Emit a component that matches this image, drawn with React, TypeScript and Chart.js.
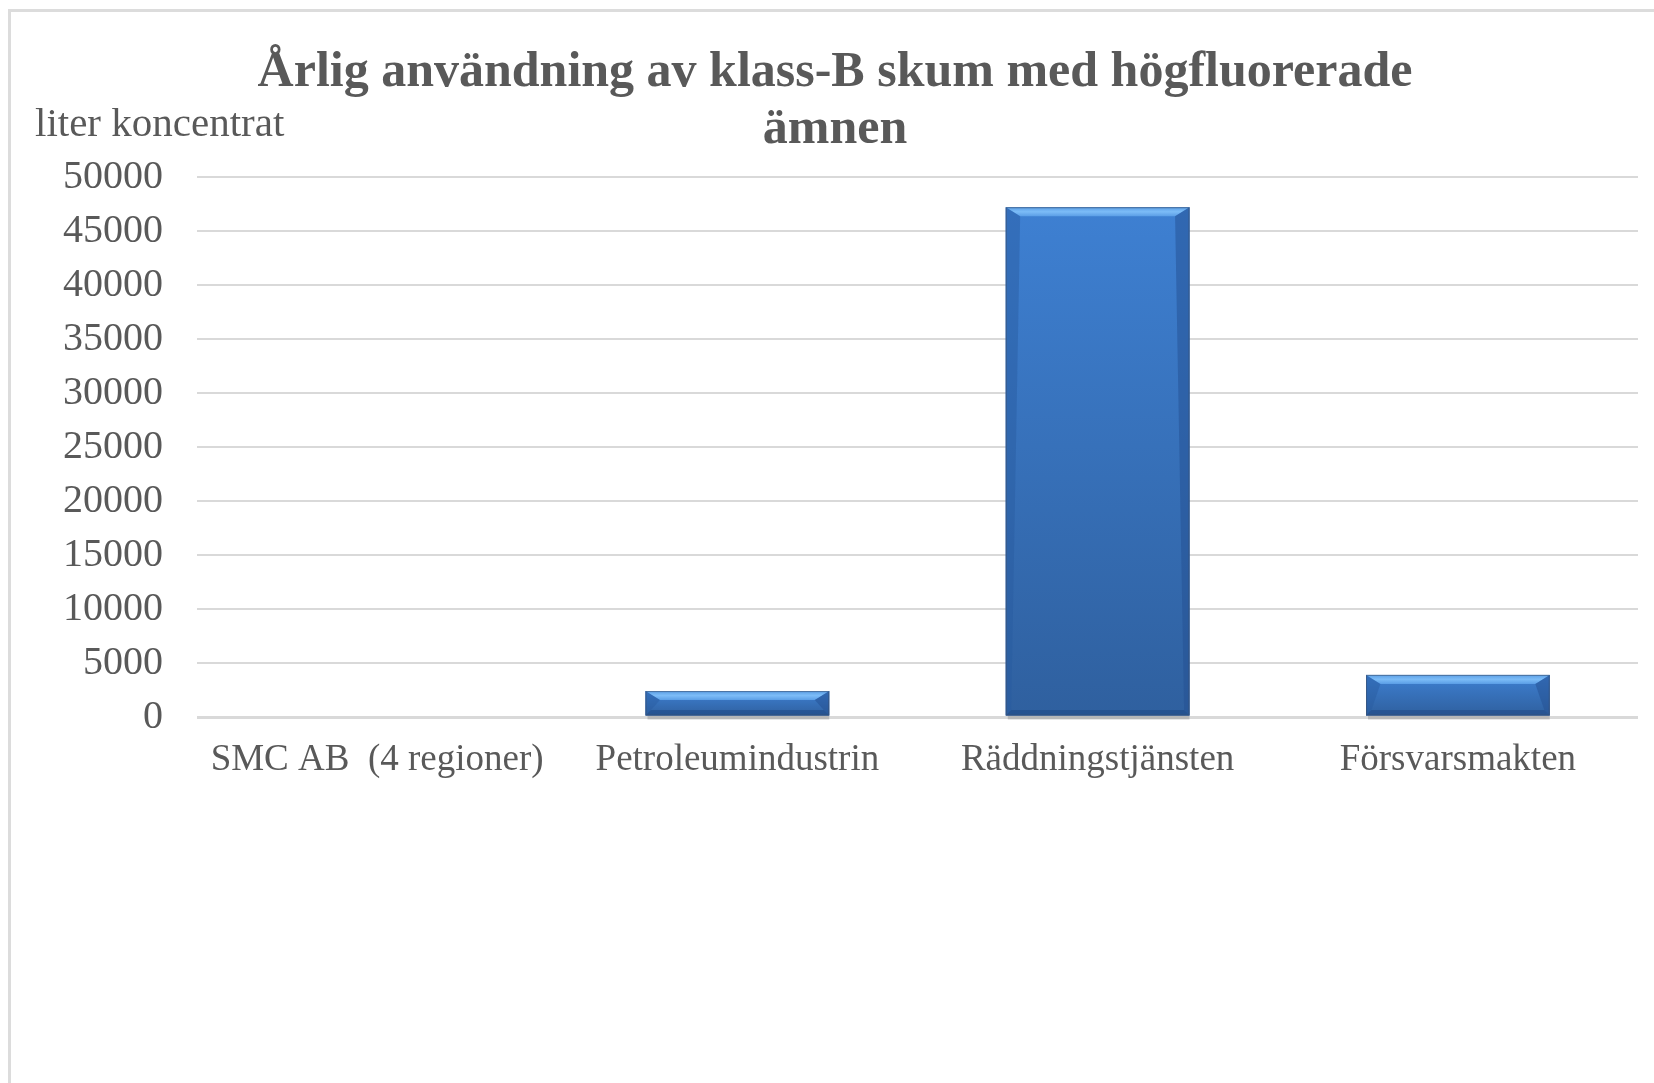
import React, { useEffect, useRef } from "react";
import { Chart, registerables } from "chart.js";

Chart.register(...registerables);

const categories = ["SMC AB  (4 regioner)", "Petroleumindustrin", "Räddningstjänsten", "Försvarsmakten"];
const values = [0, 2400, 47200, 3900];
const titleLines = ["Årlig användning av klass-B skum med högfluorerade", "ämnen"];
const yAxisTitle = "liter koncentrat";
const yMax = 50000;
const yStep = 5000;

const TEXT = "#595959";
const SERIF = "'Liberation Serif', 'Times New Roman', serif";

const W = 1654;
const H = 1083;

const textPlugin = {
  id: "texts",
  afterDraw(chart: any) {
    const ctx = chart.ctx;
    ctx.save();
    ctx.fillStyle = TEXT;
    ctx.textAlign = "center";
    ctx.textBaseline = "middle";
    ctx.font = `bold 50px ${SERIF}`;
    ctx.fillText(titleLines[0], 835, 73);
    ctx.fillText(titleLines[1], 835, 130);
    ctx.textAlign = "left";
    ctx.font = `41px ${SERIF}`;
    ctx.fillText(yAxisTitle, 35, 125);
    ctx.restore();
  },
};

const bevelPlugin = {
  id: "bevel",
  beforeDatasetsDraw(chart: any) {
    const ctx = chart.ctx;
    const meta = chart.getDatasetMeta(0);
    ctx.save();
    meta.data.forEach((bar: any) => {
      const h = bar.base - bar.y;
      if (h <= 0.5) return;
      const l = bar.x - bar.width / 2;
      ctx.fillStyle = "rgba(120,120,120,0.35)";
      ctx.fillRect(l + 2, bar.base, bar.width - 2, 4);
    });
    ctx.restore();
  },
  afterDatasetsDraw(chart: any) {
    const ctx = chart.ctx;
    const meta = chart.getDatasetMeta(0);
    ctx.save();
    meta.data.forEach((bar: any) => {
      const top = bar.y;
      const bot = bar.base;
      const h = bot - top;
      if (h <= 0.5) return;
      const l = bar.x - bar.width / 2;
      const r = bar.x + bar.width / 2;
      const b = Math.min(9, h / 2.2);
      const g = ctx.createLinearGradient(0, top, 0, bot);
      g.addColorStop(0, "#3e80d2");
      g.addColorStop(1, "#2f609f");
      ctx.fillStyle = g;
      ctx.fillRect(l, top, r - l, h);
      const gt = ctx.createLinearGradient(0, top, 0, top + b);
      gt.addColorStop(0, "#5c9fe6");
      gt.addColorStop(0.5, "#7cbcf7");
      gt.addColorStop(1, "#5b9ee6");
      ctx.fillStyle = gt;
      ctx.beginPath();
      ctx.moveTo(l, top);
      ctx.lineTo(r, top);
      ctx.lineTo(r - b * 1.6, top + b);
      ctx.lineTo(l + b * 1.6, top + b);
      ctx.closePath();
      ctx.fill();
      ctx.fillStyle = "rgba(40,90,160,0.45)";
      ctx.beginPath();
      ctx.moveTo(l, top);
      ctx.lineTo(l + b * 1.6, top + b);
      ctx.lineTo(l + b * 0.6, bot - b * 0.6);
      ctx.lineTo(l, bot);
      ctx.closePath();
      ctx.fill();
      ctx.fillStyle = "rgba(35,80,145,0.5)";
      ctx.beginPath();
      ctx.moveTo(r, top);
      ctx.lineTo(r - b * 1.6, top + b);
      ctx.lineTo(r - b * 0.6, bot - b * 0.6);
      ctx.lineTo(r, bot);
      ctx.closePath();
      ctx.fill();
      ctx.fillStyle = "rgba(30,70,130,0.5)";
      ctx.beginPath();
      ctx.moveTo(l, bot);
      ctx.lineTo(r, bot);
      ctx.lineTo(r - b * 0.6, bot - b * 0.6);
      ctx.lineTo(l + b * 0.6, bot - b * 0.6);
      ctx.closePath();
      ctx.fill();
      ctx.strokeStyle = "rgba(60,80,110,0.6)";
      ctx.lineWidth = 1;
      ctx.strokeRect(l + 0.5, top + 0.5, r - l - 1, h - 1);
    });
    ctx.restore();
  },
};

export default function App() {
  const ref = useRef<HTMLCanvasElement | null>(null);

  useEffect(() => {
    if (!ref.current) return;
    const chart = new Chart(ref.current, {
      type: "bar",
      data: {
        labels: categories,
        datasets: [
          {
            data: values,
            backgroundColor: "#3a74c2",
            borderWidth: 0,
            barPercentage: 0.51,
            categoryPercentage: 1,
          },
        ],
      },
      options: {
        responsive: false,
        animation: false,
        devicePixelRatio: 1,
        layout: { padding: { top: 177, right: 16, left: 0, bottom: 0 } },
        plugins: {
          legend: { display: false },
          tooltip: { enabled: false },
          title: { display: false },
        },
        scales: {
          x: {
            grid: { display: false, drawTicks: false },
            border: { display: false },
            ticks: {
              color: TEXT,
              font: { family: SERIF, size: 37 },
              padding: 21,
              maxRotation: 0,
              autoSkip: false,
            },
            afterFit: (s: any) => {
              s.height = H - 717;
            },
          },
          y: {
            min: 0,
            max: yMax,
            grid: {
              color: "#d9d9d9",
              lineWidth: (c: any) => (c.tick && c.tick.value === 0 ? 3 : 2),
              drawTicks: false,
            },
            border: { display: false },
            ticks: {
              stepSize: yStep,
              color: TEXT,
              font: { family: SERIF, size: 40 },
              padding: 34,
              callback: (v: any) => String(v),
            },
            afterFit: (s: any) => {
              s.width = 197;
            },
          },
        },
      },
      plugins: [textPlugin, bevelPlugin],
    });
    return () => chart.destroy();
  }, []);

  return (
    <div
      style={{
        position: "fixed",
        left: 0,
        top: 0,
        width: W,
        height: H,
        background: "#fff",
        overflow: "hidden",
      }}
    >
      <div
        style={{
          position: "absolute",
          left: 8,
          top: 9,
          width: W + 50,
          height: H + 50,
          border: "3px solid #dcdcdc",
          boxSizing: "border-box",
        }}
      />
      <canvas ref={ref} width={W} height={H} style={{ position: "absolute", left: 0, top: 0 }} />
    </div>
  );
}
